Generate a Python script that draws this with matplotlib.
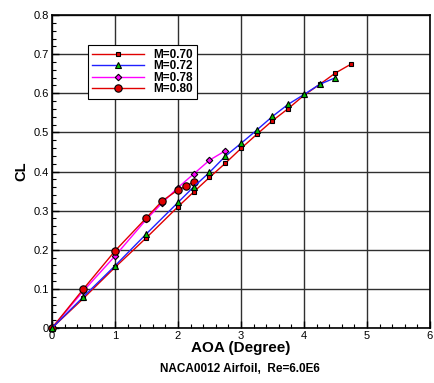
import numpy as np
import matplotlib
matplotlib.use('Agg')
import matplotlib.pyplot as plt
from matplotlib.ticker import MultipleLocator

plt.rcParams['font.family'] = ['Liberation Sans', 'DejaVu Sans']

# M=0.70
aoa_070 = [0, 0.5, 1, 1.5, 2, 2.25, 2.5, 2.75, 3, 3.25, 3.5, 3.75, 4, 4.25, 4.5, 4.75]
cl_070 = [0, 0.076, 0.155, 0.231, 0.310, 0.348, 0.385, 0.421, 0.459, 0.495, 0.530,
          0.561, 0.595, 0.623, 0.652, 0.675]
# M=0.72
aoa_072 = [0, 0.5, 1, 1.5, 2, 2.25, 2.5, 2.75, 3, 3.25, 3.5, 3.75, 4, 4.25, 4.5]
cl_072 = [0, 0.080, 0.159, 0.241, 0.321, 0.361, 0.398, 0.439, 0.472, 0.506, 0.541,
          0.572, 0.597, 0.623, 0.640]
# M=0.78
aoa_078 = [0, 0.5, 1, 1.5, 1.75, 2, 2.25, 2.5, 2.75]
cl_078 = [0, 0.095, 0.184, 0.278, 0.320, 0.359, 0.394, 0.429, 0.453]
# M=0.80
aoa_080 = [0, 0.5, 1, 1.5, 1.75, 2, 2.125, 2.25]
cl_080 = [0, 0.100, 0.197, 0.282, 0.325, 0.353, 0.362, 0.374]

fig = plt.figure(figsize=(4.35, 3.83), dpi=100)
ax = fig.add_axes([0.1195, 0.1436, 0.869, 0.817])

ax.plot(aoa_070, cl_070, color='#e00000', lw=1, marker='s', ms=3.4,
        mfc='#e00000', mec='black', mew=0.8, label='M=0.70', zorder=3, clip_on=False)
ax.plot(aoa_072, cl_072, color='#2020ff', lw=1, marker='^', ms=3.8,
        mfc='#00c000', mec='black', mew=0.8, label='M=0.72', zorder=4, clip_on=False)
ax.plot(aoa_078, cl_078, color='#ff00ff', lw=1, marker='D', ms=3.3,
        mfc='#ff00ff', mec='black', mew=0.8, label='M=0.78', zorder=3, clip_on=False)
ax.plot(aoa_080, cl_080, color='#e00000', lw=1, marker='o', ms=5.3,
        mfc='#e00000', mec='black', mew=0.8, label='M=0.80', zorder=3, clip_on=False)

ax.set_xlim(0, 6)
ax.set_ylim(0, 0.8)
ax.xaxis.set_minor_locator(MultipleLocator(0.2))
ax.yaxis.set_minor_locator(MultipleLocator(0.02))
ax.set_xticks([0, 1, 2, 3, 4, 5, 6])
ax.set_xticklabels(['0', '1', '2', '3', '4', '5', '6'])
ax.set_yticks([0, 0.1, 0.2, 0.3, 0.4, 0.5, 0.6, 0.7, 0.8])
ax.set_yticklabels(['0', '0.1', '0.2', '0.3', '0.4', '0.5', '0.6', '0.7', '0.8'])
ax.tick_params(which='both', direction='in', top=False, right=False, labelsize=8,
               pad=2)
ax.tick_params(which='major', length=5, width=1)
ax.tick_params(which='minor', length=3, width=0.8)
ax.grid(True, which='major', color='#303030', lw=1)
for s in ax.spines.values():
    s.set_linewidth(1.2)

ax.set_xlabel('AOA (Degree)', fontsize=11, fontweight='bold', labelpad=0)
ax.set_ylabel('CL', fontsize=10.5, fontweight='bold', labelpad=4)
fig.text(0.552, 0.037, 'NACA0012 Airfoil,  Re=6.0E6', ha='center', va='center',
         fontsize=8.5, fontweight='bold')

leg = ax.legend(loc='upper left', bbox_to_anchor=(0.095, 0.905),
                prop={'weight': 'bold', 'size': 8.5}, frameon=True, fancybox=False,
                edgecolor='black', framealpha=1, handlelength=4.4,
                borderpad=0.35, labelspacing=-0.05, handletextpad=0.8,
                borderaxespad=0)
leg.get_frame().set_linewidth(0.8)

fig.savefig('out.png', dpi=100)
